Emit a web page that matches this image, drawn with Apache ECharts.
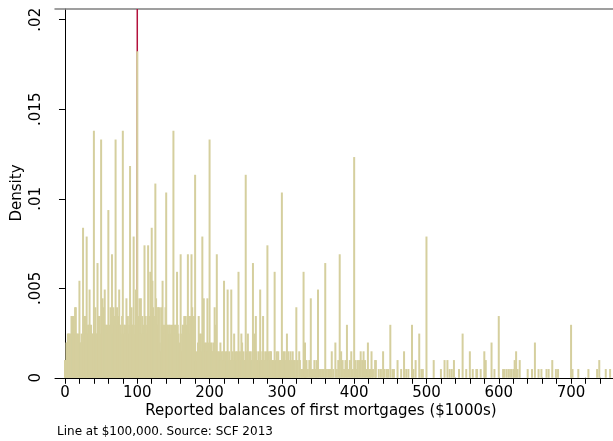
<!DOCTYPE html>
<html><head><meta charset="utf-8">
<script src="https://cdn.jsdelivr.net/npm/echarts@6/dist/echarts.min.js"></script>
<style>html,body{margin:0;padding:0;background:#fff;}#c{width:613px;height:441px;}</style>
</head><body><div id="c"></div>
<script>
// Reported balance of first mortgage ($1000s), one bin per $1000
const balance = [
0,1,2,3,4,5,6,7,8,9,10,11,12,13,14,15,16,17,18,19,
20,21,22,23,24,25,26,27,28,29,30,31,32,33,34,35,36,37,38,39,
40,41,42,43,44,45,46,47,48,49,50,51,52,53,54,55,56,57,58,59,
60,61,62,63,64,65,66,67,68,69,70,71,72,73,74,75,76,77,78,79,
80,81,82,83,84,85,86,87,88,89,90,91,92,93,94,95,96,97,98,99,
100,101,102,103,104,105,106,107,108,109,110,111,112,113,114,115,116,117,118,119,
120,121,122,123,124,125,126,127,128,129,130,131,132,133,134,135,136,137,138,139,
140,141,142,143,144,145,146,147,148,149,150,151,152,153,154,155,156,157,158,159,
160,161,162,163,164,165,166,167,168,169,170,171,172,173,174,175,176,177,178,179,
180,181,182,183,184,185,186,187,188,189,190,191,192,193,194,195,196,197,198,199,
200,201,202,203,204,205,206,207,208,209,210,211,212,213,214,215,216,217,218,219,
220,221,222,223,224,225,226,227,228,229,230,231,232,233,234,235,236,237,238,239,
240,241,242,243,244,245,246,247,248,249,250,251,252,253,254,255,256,257,258,259,
260,261,262,263,264,265,266,267,268,269,270,271,272,273,274,275,276,277,278,279,
280,281,282,283,284,285,286,287,288,289,290,291,292,293,294,295,296,297,298,299,
300,301,302,303,304,305,306,307,308,309,310,311,312,313,315,316,317,318,320,321,
322,324,325,327,328,330,331,332,333,334,336,338,340,341,343,345,347,348,350,352,
354,356,358,360,362,364,366,367,369,371,374,376,378,380,382,384,386,388,390,392,
394,396,398,400,402,404,405,407,409,411,413,415,417,419,421,422,424,426,429,430,
434,437,440,442,445,447,450,453,455,460,465,469,472,475,480,482,485,490,493,495,
500,510,520,525,529,532,535,538,545,550,555,560,564,569,570,575,580,582,590,594,
600,606,608,611,614,617,620,622,624,626,629,640,646,650,655,659,666,669,674,679,
682,700,702,710,724,736,739,748,754
];
const density = [
.00099,.00099,.00197,.00197,.00247,.00247,.00247,.00197,.00247,.00345,.00345,.00296,.00345,.00247,.00394,.00394,.00247,.00247,.00197,.00247,
.00542,.00197,.00197,.00247,.00197,.00838,.00296,.00345,.00345,.00247,.00789,.00247,.00296,.00296,.00493,.00296,.00296,.00247,.00247,.00197,
.0138,.00247,.00394,.00247,.00247,.00641,.00247,.00345,.00345,.00247,.01331,.00247,.00444,.00296,.00394,.00493,.00296,.00296,.00247,.00296,
.00937,.00247,.00296,.00394,.00296,.0069,.00247,.00394,.00296,.00345,.01331,.00296,.00394,.00296,.00345,.00493,.00296,.00296,.00247,.00345,
.0138,.00247,.00296,.00296,.00247,.00444,.00296,.00345,.00247,.00296,.01183,.00247,.00394,.00296,.00296,.00789,.00247,.00296,.00493,.00345,
.01824,.00345,.00296,.00444,.00247,.00444,.00247,.00345,.00296,.00247,.0074,.00345,.00296,.00247,.00345,.0074,.00296,.00345,.00592,.00296,
.00838,.00542,.00394,.00296,.00345,.01085,.00444,.00394,.00296,.00394,.00394,.00197,.00148,.00394,.00296,.00542,.00296,.00247,.00296,.00394,
.01035,.00296,.00296,.00247,.00296,.00296,.00247,.00296,.00247,.00296,.0138,.00296,.00247,.00296,.00296,.00592,.00296,.00247,.00148,.00197,
.0069,.00148,.00247,.00296,.00296,.00345,.00296,.00345,.00296,.00247,.0069,.00345,.00247,.00345,.00296,.0069,.00394,.00345,.00296,.00345,
.01134,.00099,.00148,.00099,.00197,.00345,.00247,.00197,.00247,.00148,.00789,.00197,.00444,.00197,.00148,.00197,.00148,.00444,.00148,.00197,
.01331,.00197,.00148,.00197,.00148,.00148,.00197,.00394,.00148,.00296,.0069,.00148,.00099,.00148,.00099,.00197,.00099,.00148,.00099,.00148,
.00542,.00099,.00148,.00099,.00148,.00493,.00099,.00148,.00099,.00099,.00493,.00099,.00148,.00099,.00247,.00099,.00148,.00099,.00148,.00099,
.00592,.00099,.00148,.00099,.00247,.00197,.00099,.00148,.00099,.00099,.01134,.00148,.00099,.00247,.00099,.00148,.00099,.00148,.00099,.00099,
.00641,.00099,.00247,.00099,.00345,.00148,.00099,.00099,.00148,.00099,.00493,.00099,.00099,.00148,.00345,.00148,.00099,.00099,.00148,.00099,
.0074,.00099,.00148,.00099,.00148,.00148,.00099,.00099,.00049,.00099,.00592,.00099,.00049,.00148,.00099,.00148,.00049,.00099,.00099,.00099,
.01035,.00099,.00148,.00099,.00148,.00099,.00049,.00247,.00099,.00148,.00099,.00049,.00148,.00099,.00148,.00099,.00049,.00099,.00394,.00049,
.00099,.00148,.00099,.00049,.00049,.00592,.00099,.00197,.00049,.00099,.00049,.00099,.00444,.00049,.00049,.00099,.00049,.00099,.00493,.00049,
.00049,.00049,.00049,.00641,.00049,.00049,.00049,.00049,.00148,.00049,.00197,.00049,.00099,.0069,.00148,.00099,.00049,.00099,.00296,.00049,
.00099,.00148,.00049,.01233,.00099,.00049,.00099,.00099,.00148,.00099,.00148,.00099,.00049,.00197,.00049,.00049,.00148,.00049,.00099,.00099,
.00049,.00049,.00148,.00049,.00049,.00049,.00296,.00049,.00049,.00099,.00049,.00148,.00049,.00049,.00296,.00049,.00099,.00247,.00049,.00049,
.00789,.00099,.00049,.00099,.00099,.00049,.00049,.00099,.00049,.00247,.00049,.00148,.00049,.00049,.00049,.00049,.00148,.00099,.00197,.00049,
.00345,.00049,.00049,.00049,.00049,.00049,.00049,.00099,.00148,.00049,.00099,.00049,.00049,.00197,.00049,.00049,.00049,.00049,.00099,.00049,
.00049,.00296,.00049,.00049,.00049,.00049,.00099,.00049,.00049
];
const xTickValues = [0,20,40,60,80,100,120,140,160,180,200,220,240,260,280,300,320,340,360,380,400,420,440,460,480,500,520,540,560,580,600,620,640,660,680,700,720,740];
const xLabelValues = [0,100,200,300,400,500,600,700];
const yTickLabels = ['0','.005','.01','.015','.02'];
const refLineX = 100;          // reference line at $100,000
const refLineY = [0, 0.0206];  // spans the full plot height
const xTitle = 'Reported balances of first mortgages ($1000s)';
const yTitle = 'Density';
const note = 'Line at $100,000. Source: SCF 2013';

const FONT = 'DejaVu Sans';
const chart = echarts.init(document.getElementById('c'), null, {renderer:'canvas'});
const pts = balance.map((b,i)=>[b, density[i]]);
const X_MIN = -13.8, X_MAX = 758;
chart.setOption({
  animation:false,
  backgroundColor:'#ffffff',
  grid:{left:55, top:9, right:0, height:368.8, containLabel:false},
  xAxis:[{
    type:'value', min:X_MIN, max:X_MAX, position:'bottom',
    axisLine:{show:true, onZero:false, lineStyle:{color:'#000', width:1}},
    axisTick:{show:true, length:6, customValues:xTickValues, lineStyle:{color:'#000', width:1}},
    axisLabel:{show:true, customValues:xLabelValues, margin:8, fontSize:15, fontFamily:FONT, color:'#000'},
    splitLine:{show:false}
  },{
    type:'value', min:X_MIN, max:X_MAX, position:'top',
    axisLine:{show:true, onZero:false, lineStyle:{color:'#808080', width:1.5}},
    axisTick:{show:false}, axisLabel:{show:false}, splitLine:{show:false}
  }],
  yAxis:{
    type:'value', min:0, max:0.0206, interval:0.005,
    axisLine:{show:true, lineStyle:{color:'#000', width:1}},
    axisTick:{show:true, length:6, lineStyle:{color:'#000'}},
    axisLabel:{rotate:90, margin:11, fontSize:15, fontFamily:FONT, color:'#000',
      formatter:v=>yTickLabels[Math.round(v/0.005)]||''},
    splitLine:{show:false}
  },
  series:[{
    type:'line', z:1, zlevel:0, silent:true, showSymbol:false,
    data:refLineY.map(y=>[refLineX, y]),
    lineStyle:{color:'#b3123c', width:1.5, type:'solid'}
  },{
    type:'bar', data:pts, barWidth:2, z:3, zlevel:0,
    itemStyle:{color:'#d5cf9e'}, silent:true
  }],
  graphic:[
    {type:'text', x:321, y:411, style:{text:xTitle, fontSize:15, fontFamily:FONT, fill:'#000', align:'center', verticalAlign:'middle'}},
    {type:'text', x:17, y:193, rotation:Math.PI/2, style:{text:yTitle, fontSize:15, fontFamily:FONT, fill:'#000', align:'center', verticalAlign:'middle'}},
    {type:'text', x:57, y:432, style:{text:note, fontSize:12, fontFamily:FONT, fill:'#000', align:'left', verticalAlign:'middle'}}
  ]
});
</script></body></html>
